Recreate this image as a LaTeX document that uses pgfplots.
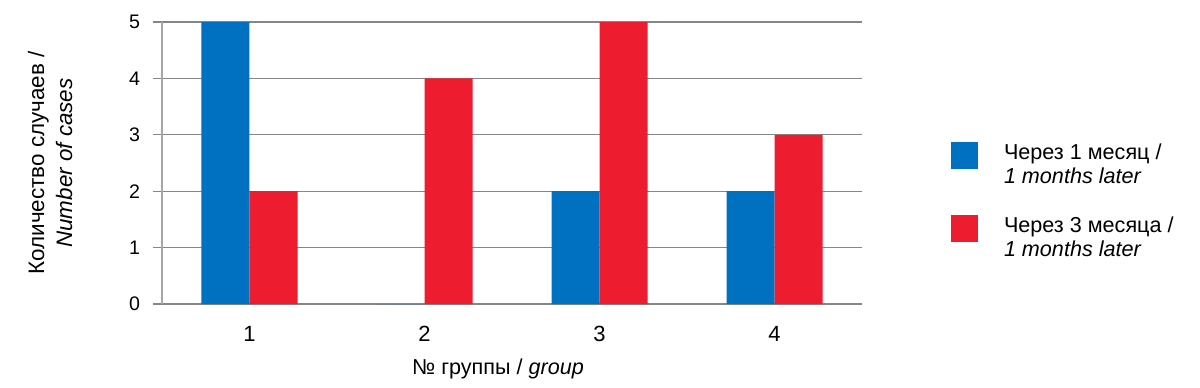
\documentclass[border=0pt]{standalone}
\usepackage{fontspec}
\setmainfont{Liberation Sans}
\usepackage{pgfplots}
\pgfplotsset{compat=1.18}
\definecolor{cblue}{HTML}{0070C0}
\definecolor{cred}{HTML}{ED1C2E}
\definecolor{cgrid}{HTML}{868686}
\definecolor{caxis}{HTML}{A6A6A6}
\begin{document}
\begin{tikzpicture}
\begin{axis}[
  at={(0pt,0pt)}, anchor=origin,
  scale only axis, width=350pt, height=141pt,
  ybar=0pt, bar width=24pt,
  xmin=0.5, xmax=4.5, ymin=0, ymax=5,
  xtick={1,2,3,4}, xticklabels={1,2,3,4},
  major x tick style={draw=none},
  extra x ticks={0.5,1.5,2.5,3.5,4.5},
  extra x tick labels={},
  extra x tick style={major tick length=4.5pt, tick align=outside, tick style={draw=caxis}, grid=none},
  ytick={0,1,2,3,4,5},
  ymajorgrids, grid style={cgrid, line width=0.6pt},
  y tick style={cgrid, line width=0.6pt},
  tick align=outside, major tick length=4.5pt,
  axis x line*=bottom, axis y line*=left,
  x axis line style={cgrid, line width=0.6pt},
  y axis line style={caxis, line width=0.6pt},
  /pgf/number format/assume math mode=true,
  yticklabel style={font=\fontsize{9.8}{11}\selectfont, black, xshift=-3pt},
  xticklabel style={font=\fontsize{11}{12}\selectfont, black, yshift=-3pt},
  xlabel={№ группы / \textit{group}},
  xlabel style={font=\fontsize{10.8}{12}\selectfont, at={(axis description cs:0.5,0)}, anchor=center, yshift=-32.5pt, xshift=-7pt},
  ylabel={Количество случаев /\\ \textit{Number of cases}},
  ylabel style={font=\fontsize{11.2}{14}\selectfont, align=center, at={(axis description cs:0,0.5)}, anchor=center, yshift=56pt},
  legend style={at={(axis description cs:1.118,0.598)}, anchor=north west, draw=none, fill=none,
    font=\fontsize{10.8}{12}\selectfont, row sep=11pt, column sep=7pt,
    nodes={align=left, inner xsep=6pt}},
  legend cell align=left,
  legend image code/.code={\fill[#1,draw=none] (0pt,-2pt) rectangle (13.5pt,11.5pt);},
]
\addplot[fill=cblue, draw=none] coordinates {(1,5) (2,0) (3,2) (4,2)};
\addplot[fill=cred, draw=none] coordinates {(1,2) (2,4) (3,5) (4,3)};
\legend{Через 1 месяц /\\\textit{1 months later}, Через 3 месяца /\\\textit{1 months later}}
\end{axis}
\pgfresetboundingbox
\path (-81pt,-41.5pt) rectangle (519pt,152pt);
\end{tikzpicture}
\end{document}
